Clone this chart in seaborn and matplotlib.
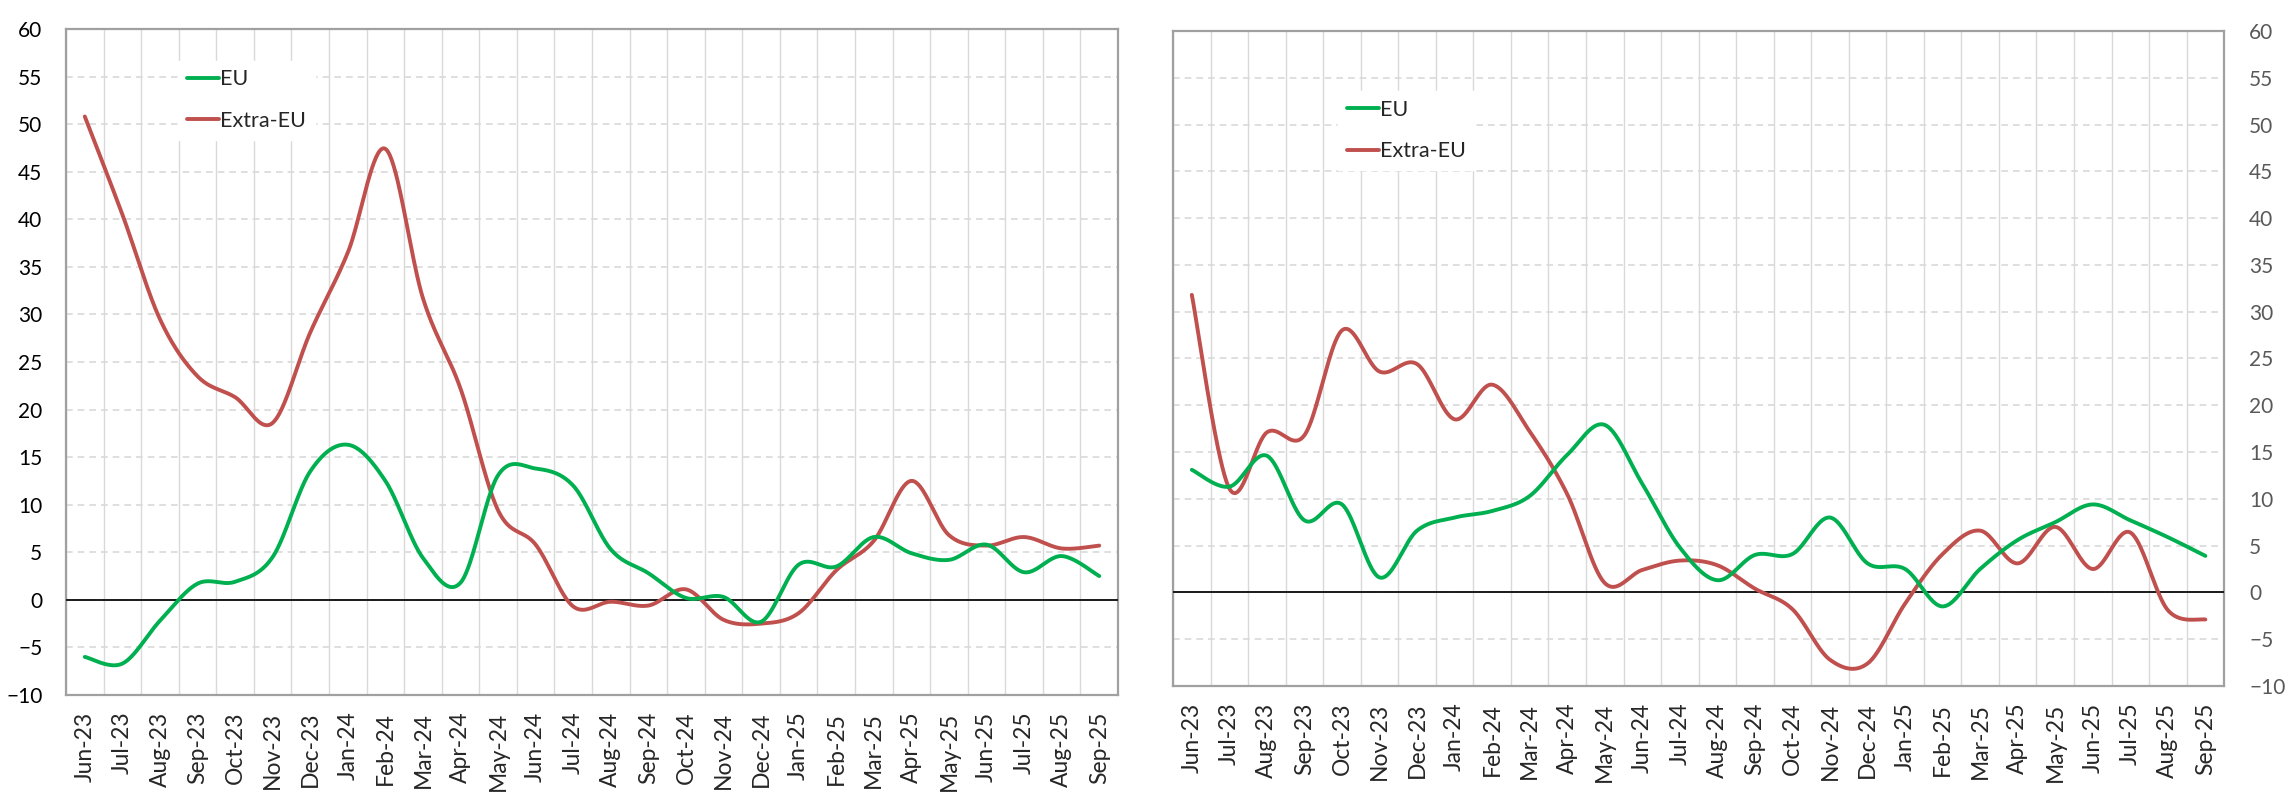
import numpy as np
import pandas as pd
import matplotlib
matplotlib.use("Agg")
import matplotlib.pyplot as plt
import seaborn as sns

# month labels shared by both panels
months = ["Jun-23", "Jul-23", "Aug-23", "Sep-23", "Oct-23", "Nov-23", "Dec-23",
          "Jan-24", "Feb-24", "Mar-24", "Apr-24", "May-24", "Jun-24", "Jul-24",
          "Aug-24", "Sep-24", "Oct-24", "Nov-24", "Dec-24", "Jan-25", "Feb-25",
          "Mar-25", "Apr-25", "May-25", "Jun-25", "Jul-25", "Aug-25", "Sep-25"]

# left panel
left_eu = [-6.0, -6.7, -2.2, 1.7, 1.9, 4.5, 13.5, 16.3, 12.5, 4.4, 1.8, 13.1, 13.8, 12.0,
           5.3, 2.8, 0.2, 0.3, -2.3, 3.7, 3.5, 6.6, 4.9, 4.2, 5.8, 2.9, 4.6, 2.5]
left_extra = [50.8, 40.5, 29.5, 23.5, 21.3, 18.6, 28.1, 36.5, 47.4, 31.7, 22.2, 9.4, 5.8, -0.7,
              -0.2, -0.6, 1.1, -2.1, -2.5, -1.4, 3.1, 6.2, 12.5, 6.8, 5.7, 6.6, 5.4, 5.7]

# right panel
right_eu = [13.1, 11.3, 14.6, 7.7, 9.4, 1.6, 6.6, 8.0, 8.7, 10.3, 14.7, 17.9, 11.6, 4.8,
            1.3, 4.0, 4.1, 8.0, 3.1, 2.5, -1.5, 2.5, 5.6, 7.5, 9.4, 7.7, 5.9, 3.9]
right_extra = [31.8, 11.1, 17.1, 16.8, 28.0, 23.6, 24.4, 18.5, 22.2, 17.2, 10.5, 1.0, 2.4, 3.4,
               2.9, 0.4, -1.8, -7.2, -7.6, -1.2, 4.1, 6.6, 3.1, 7.0, 2.5, 6.4, -1.9, -2.9]

GREEN = "#00B050"
RED = "#C0504D"
GRID = "#D9D9D9"
SPINE = "#A0A0A0"


def smooth(vals, n=40):
    # Excel-like smoothed line: cubic Bezier through every point (Catmull-Rom controls)
    y = np.asarray(vals, dtype=float)
    x = np.arange(len(y), dtype=float)
    px = np.concatenate([[x[0]], x, [x[-1]]])
    py = np.concatenate([[y[0]], y, [y[-1]]])
    t = np.linspace(0, 1, n, endpoint=False)
    xs, ys = [], []
    for i in range(len(y) - 1):
        x0, x1, x2, x3 = px[i:i + 4]
        y0, y1, y2, y3 = py[i:i + 4]
        c1x, c1y = x1 + (x2 - x0) / 6, y1 + (y2 - y0) / 6
        c2x, c2y = x2 - (x3 - x1) / 6, y2 - (y3 - y1) / 6
        a = (1 - t) ** 3
        b = 3 * (1 - t) ** 2 * t
        c = 3 * (1 - t) * t ** 2
        d = t ** 3
        xs.append(a * x1 + b * c1x + c * c2x + d * x2)
        ys.append(a * y1 + b * c1y + c * c2y + d * y2)
    xs.append([x[-1]])
    ys.append([y[-1]])
    return pd.DataFrame({"x": np.concatenate(xs), "y": np.concatenate(ys)})


sns.set_style("white")
plt.rcParams["font.family"] = ["Lato", "DejaVu Sans"]

fig = plt.figure(figsize=(22.92, 7.98), dpi=100)
ax1 = fig.add_axes([0.0288, 0.1291, 0.4590, 0.8346])
ax2 = fig.add_axes([0.5118, 0.1404, 0.4586, 0.8208])


def draw(ax, eu, extra, side, ycolor, xsize, leg_anchor):
    d_eu = smooth(eu)
    d_ex = smooth(extra)
    sns.lineplot(data=d_ex, x="x", y="y", sort=False, estimator=None, color=RED,
                 lw=2.8, ax=ax, label="Extra-EU", zorder=4, solid_capstyle="round")
    sns.lineplot(data=d_eu, x="x", y="y", sort=False, estimator=None, color=GREEN,
                 lw=2.8, ax=ax, label="EU", zorder=5, solid_capstyle="round")
    ax.set_xlim(-0.5, len(months) - 0.5)
    ax.set_ylim(-10, 60)
    ax.set_yticks(np.arange(-10, 61, 5))
    ax.set_xticks(np.arange(len(months)))
    ax.set_xticklabels(months, rotation=90, fontsize=xsize)
    ax.set_xticks(np.arange(-0.5, len(months), 1), minor=True)
    ax.set_xlabel("")
    ax.set_ylabel("")
    ax.grid(False)
    ax.grid(which="minor", axis="x", color=GRID, lw=1.0, ls="-", zorder=0)
    ax.grid(which="major", axis="y", color=GRID, lw=1.2, ls=(0, (4, 3)), zorder=0)
    ax.axhline(0, color="#1a1a1a", lw=1.4, zorder=3)
    ax.tick_params(which="both", length=0)
    ax.tick_params(axis="x", pad=12)
    if side == "right":
        ax.yaxis.tick_right()
        ax.tick_params(axis="y", pad=18, labelsize=15, labelcolor=ycolor)
    else:
        ax.tick_params(axis="y", pad=17, labelsize=15, labelcolor=ycolor)
    for sp in ax.spines.values():
        sp.set_visible(True)
        sp.set_color(SPINE)
        sp.set_linewidth(1.6)
    h, l = ax.get_legend_handles_labels()
    order = [l.index("EU"), l.index("Extra-EU")]
    leg = ax.legend([h[i] for i in order], [l[i] for i in order], loc="center left",
                    bbox_to_anchor=leg_anchor, frameon=True, framealpha=1,
                    edgecolor="white", facecolor="white", fancybox=False,
                    fontsize=15.5, handlelength=1.5, handletextpad=0.05,
                    labelspacing=1.0, borderpad=0.4, borderaxespad=0)
    leg.set_zorder(6)


draw(ax1, left_eu, left_extra, "left", "black", 16.5, (0.1065, 0.893))
draw(ax2, right_eu, right_extra, "right", "#595959", 16.5, (0.157, 0.848))

fig.savefig("out.png", dpi=100)
